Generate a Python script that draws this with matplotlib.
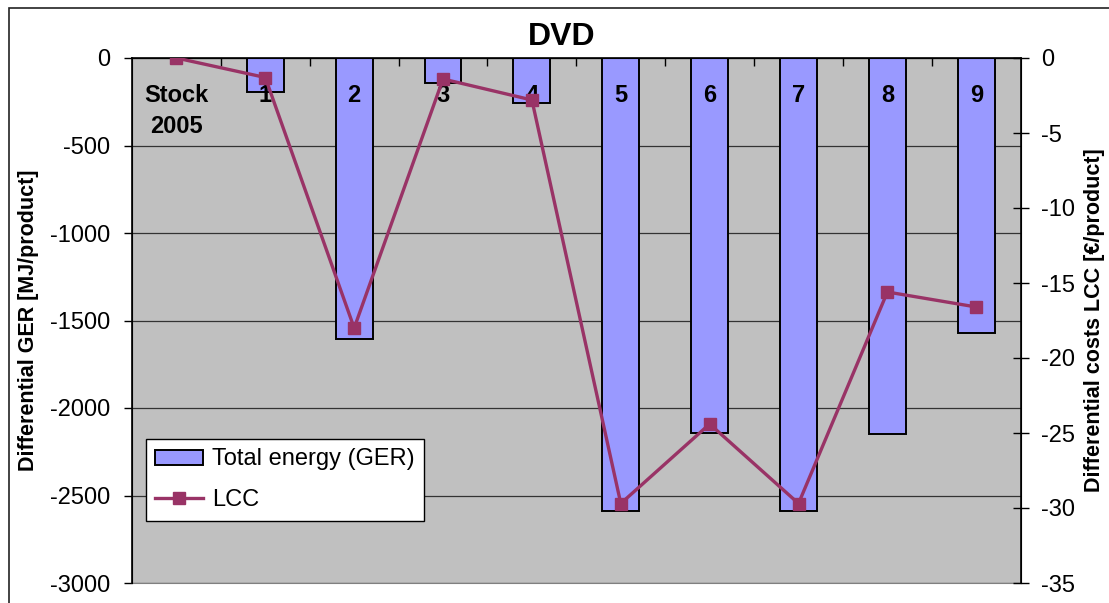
import matplotlib
matplotlib.use("Agg")
import matplotlib.pyplot as plt
from matplotlib.patches import Rectangle

plt.rcParams["font.family"] = ["Liberation Sans", "DejaVu Sans"]

# data
categories = ["Stock\n2005", "1", "2", "3", "4", "5", "6", "7", "8", "9"]
ger = [0, -196, -1605, -140, -255, -2590, -2140, -2590, -2150, -1570]
lcc = [0, -1.3, -18.0, -1.4, -2.8, -29.7, -24.4, -29.7, -15.6, -16.6]
ger_ticks = [0, -500, -1000, -1500, -2000, -2500, -3000]
lcc_ticks = [0, -5, -10, -15, -20, -25, -30, -35]

bar_color = "#9999FF"
line_color = "#993366"

W, H = 1109, 603
fig = plt.figure(figsize=(W / 100, H / 100), dpi=100)
fig.patches.append(Rectangle((9 / W, -0.1), 1.2, 1 - 8 / H + 0.1,
                             transform=fig.transFigure, fill=False,
                             edgecolor="#222222", linewidth=1.2))

ax0 = fig.add_axes([132 / W, 1 - 583 / H, 888.7 / W, 525 / H])
ax0.set_facecolor("#C0C0C0")
x = list(range(len(categories)))
bars = ax0.bar(x, ger, width=0.415, color=bar_color, edgecolor="black",
               linewidth=1.4, label="Total energy (GER)", zorder=3)
ax0.set_xlim(-0.5, len(categories) - 0.5)
ax0.set_ylim(-3000, 0)
ax0.set_yticks(ger_ticks)
ax0.set_yticklabels([str(t) for t in ger_ticks], fontsize=17)
ax0.yaxis.grid(True, color="#333333", linewidth=0.9, zorder=1)
ax0.set_axisbelow(True)
ax0.tick_params(axis="y", direction="out", length=5.8, width=1, pad=10)
ax0.set_ylabel("Differential GER [MJ/product]", fontsize=15.5,
               fontweight="bold", labelpad=8)

# category axis sits at the top (y = 0), ticks between categories
ax0.set_xticks([i + 0.5 for i in x[:-1]])
ax0.set_xticklabels([])
ax0.xaxis.set_ticks_position("top")
ax0.tick_params(axis="x", direction="in", length=5.5, width=1)
for i, c in enumerate(categories):
    ax0.text(i, -150, c, ha="center", va="top", fontsize=17, fontweight="bold",
             linespacing=1.43, zorder=6)

ax0.spines["bottom"].set_color("#808080")
ax0.spines["left"].set_linewidth(1.2)
ax0.spines["top"].set_linewidth(1.2)

ax1 = ax0.twinx()
line, = ax1.plot(x, lcc, color=line_color, linewidth=2.4, marker="s",
                 markersize=8.4, label="LCC", zorder=5)
ax1.set_ylim(-35, 0)
ax1.set_yticks(lcc_ticks)
ax1.set_yticklabels([str(t) for t in lcc_ticks], fontsize=17)
ax1.tick_params(axis="y", direction="inout", length=11.5, width=1, pad=9)
ax1.set_ylabel("Differential costs LCC [€/product]", fontsize=15.5,
               fontweight="bold", labelpad=6)
ax1.spines["right"].set_linewidth(1.2)
ax1.spines["bottom"].set_visible(False)

fig.text(562 / W, 1 - 37 / H, "DVD", ha="center", va="center",
         fontsize=23, fontweight="bold")

leg = ax1.legend([bars, line], ["Total energy (GER)", "LCC"],
                 loc="upper left", bbox_to_anchor=(146 / W, 1 - 439 / H),
                 bbox_transform=fig.transFigure, borderaxespad=0,
                 fontsize=17, fancybox=False, framealpha=1, edgecolor="black",
                 handlelength=2.03, handleheight=0.6, handletextpad=0.38,
                 borderpad=0.4, labelspacing=0.79)
leg.get_frame().set_linewidth(1.0)

fig.savefig("out.png", dpi=100)
